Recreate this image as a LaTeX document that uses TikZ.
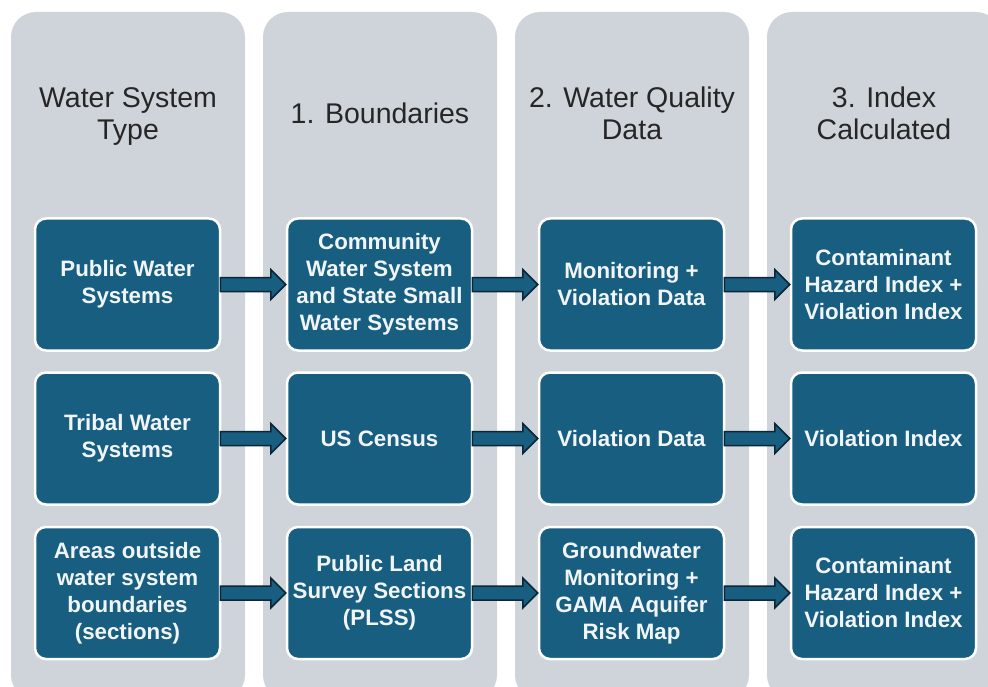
\documentclass[tikz,border=0pt]{standalone}
\usepackage{fontspec}
\setmainfont{Liberation Sans}
\usetikzlibrary{calc}
\definecolor{colgray}{HTML}{CFD4DA}
\definecolor{boxblue}{HTML}{175E80}
\definecolor{arrowline}{HTML}{0B2636}
\definecolor{headtext}{HTML}{262626}
\definecolor{boxtext}{HTML}{F2F5F7}
\tikzset{
  column/.style={fill=colgray, rounded corners=25pt},
  heading/.style={text=headtext, font=\fontsize{28.5}{32}\selectfont, align=center},
  stepbox/.style={fill=boxblue, draw=white, line width=2.5pt, rounded corners=11pt,
    minimum width=185pt, minimum height=132pt, text=boxtext, align=center,
    font=\bfseries\fontsize{22.3}{27}\selectfont, inner sep=0pt},
  arr/.style={fill=boxblue, draw=arrowline, line width=1.5pt, line join=miter}
}
\newcommand\blockarrow[2]{%
  \draw[arr] let \p1=(#1.east), \p2=(#2.west) in
    (\x1-1pt,\y1+7pt) -- (\x2-15pt,\y1+7pt) -- (\x2-15pt,\y1+15pt) -- (\x2,\y1)
    -- (\x2-15pt,\y1-15pt) -- (\x2-15pt,\y1-7pt) -- (\x1-1pt,\y1-7pt) -- cycle;}
\begin{document}
\begin{tikzpicture}[x=1pt,y=-1pt]
\useasboundingbox (0,0) rectangle (988,687);
\fill[white] (0,0) rectangle (988,687);
% columns
\path[column] (11,12) rectangle (245,700);
\path[column] (263,12) rectangle (497,700);
\path[column] (515,12) rectangle (749,700);
\path[column] (767,12) rectangle (1001,700);
% headings
\node[heading] (h1) at (128,116.5) {Water System\\Type};
\node[heading] (h2) at (380,113) {1. Boundaries};
\node[heading] (h3) at (632,113) {2. Water Quality\\Data};
\node[heading] (h4) at (884,113) {3. Index\\Calculated};
% row 1
\node[stepbox] (a1) at (127.5,284.5) {Public Water\\Systems};
\node[stepbox] (b1) at (379.5,284.5) {Community\\Water System\\and State Small\\Water Systems};
\node[stepbox] (c1) at (631.5,284.5) {Monitoring +\\Violation Data};
\node[stepbox] (d1) at (883.5,284.5) {Contaminant\\Hazard Index +\\Violation Index};
% row 2
\node[stepbox] (a2) at (127.5,438.5) {Tribal Water\\Systems};
\node[stepbox] (b2) at (379.5,438.5) {US Census};
\node[stepbox] (c2) at (631.5,438.5) {Violation Data};
\node[stepbox] (d2) at (883.5,438.5) {Violation Index};
% row 3
\node[stepbox] (a3) at (127.5,593) {Areas outside\\water system\\boundaries\\(sections)};
\node[stepbox] (b3) at (379.5,593) {Public Land\\Survey Sections\\(PLSS)};
\node[stepbox] (c3) at (631.5,593) {Groundwater\\Monitoring +\\GAMA Aquifer\\Risk Map};
\node[stepbox] (d3) at (883.5,593) {Contaminant\\Hazard Index +\\Violation Index};
% arrows
\blockarrow{a1}{b1}\blockarrow{b1}{c1}\blockarrow{c1}{d1}
\blockarrow{a2}{b2}\blockarrow{b2}{c2}\blockarrow{c2}{d2}
\blockarrow{a3}{b3}\blockarrow{b3}{c3}\blockarrow{c3}{d3}
\end{tikzpicture}
\end{document}
